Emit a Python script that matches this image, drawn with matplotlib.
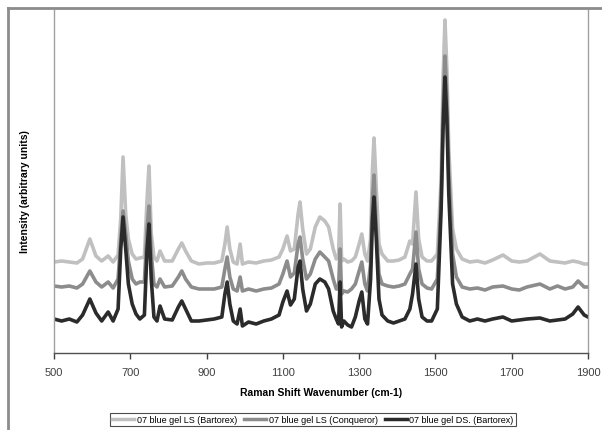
import matplotlib.pyplot as plt
from matplotlib.lines import Line2D

plt.rcParams["font.family"] = ["Liberation Sans", "DejaVu Sans"]

wavenumber = [500, 520, 540, 560, 575, 594, 610, 625, 642, 655, 668, 675, 681, 688, 695,
              705, 715, 725, 737, 744, 749, 755, 762, 770, 778, 790, 810, 826, 835, 845,
              860, 880, 900, 920, 940, 948, 954, 961, 970, 980, 988, 994, 1010, 1030, 1050,
              1070, 1090, 1100, 1111, 1120, 1130, 1140, 1145, 1152, 1162, 1172, 1185, 1197, 1210, 1220,
              1232, 1240, 1246, 1250, 1254, 1260, 1270, 1280, 1290, 1300, 1307, 1315, 1322, 1330, 1335,
              1339, 1345, 1352, 1360, 1375, 1390, 1405, 1420, 1433, 1440, 1449, 1456, 1465, 1478, 1490,
              1505, 1515, 1520, 1525, 1530, 1535, 1545, 1555, 1570, 1590, 1610, 1630, 1650, 1677, 1700,
              1720, 1740, 1774, 1800, 1820, 1840, 1860, 1874, 1890, 1900]

ls_bartorex = [91, 92, 91, 90, 94, 114, 97, 92, 97, 91, 98, 134, 196, 139, 114,
               99, 94, 95, 96, 154, 187, 119, 96, 92, 102, 92, 92, 104, 110, 102,
               92, 89, 90, 90, 92, 109, 126, 104, 91, 89, 109, 89, 91, 90, 92,
               93, 96, 104, 117, 102, 104, 139, 151, 124, 99, 104, 126, 136, 132, 126,
               104, 94, 96, 149, 92, 94, 91, 92, 96, 109, 119, 99, 92, 114, 184,
               215, 164, 109, 99, 92, 92, 93, 96, 112, 109, 161, 114, 96, 92, 92,
               99, 174, 274, 333, 284, 204, 124, 104, 94, 91, 92, 90, 93, 98, 92,
               91, 92, 99, 92, 91, 90, 92, 91, 89, 89]

ls_conqueror = [67, 66, 67, 65, 69, 82, 71, 66, 71, 65, 74, 114, 142, 119, 92,
                74, 69, 71, 71, 124, 147, 99, 69, 66, 74, 66, 67, 76, 82, 74,
                66, 64, 64, 64, 66, 84, 96, 76, 64, 62, 76, 62, 64, 62, 64,
                65, 69, 79, 92, 76, 80, 109, 116, 94, 74, 79, 94, 101, 96, 92,
                74, 64, 64, 104, 59, 62, 61, 64, 69, 82, 91, 69, 62, 89, 154,
                178, 124, 79, 69, 67, 66, 67, 69, 79, 84, 121, 84, 69, 65, 64,
                74, 154, 244, 297, 254, 179, 99, 76, 66, 64, 65, 63, 66, 67, 64,
                63, 66, 69, 64, 67, 64, 66, 72, 66, 66]

ds_bartorex = [34, 32, 34, 31, 38, 54, 40, 32, 41, 32, 44, 104, 136, 104, 69,
               49, 39, 34, 38, 104, 129, 74, 36, 32, 47, 34, 33, 46, 52, 44,
               32, 32, 33, 34, 36, 59, 71, 49, 32, 29, 44, 27, 31, 29, 32,
               34, 38, 51, 62, 48, 54, 86, 92, 64, 42, 49, 69, 74, 71, 64,
               42, 34, 29, 71, 26, 32, 28, 26, 36, 52, 61, 34, 29, 74, 134,
               156, 114, 54, 38, 32, 30, 32, 34, 44, 59, 89, 54, 36, 32, 32,
               44, 144, 224, 276, 234, 159, 69, 49, 36, 32, 34, 32, 34, 36, 32,
               33, 34, 35, 32, 33, 34, 39, 46, 38, 36]

series_labels = ["07 blue gel LS (Bartorex)", "07 blue gel LS (Conqueror)", "07 blue gel DS. (Bartorex)"]
series_colors = ["#c0c0c0", "#8c8c8c", "#2b2b2b"]
x_ticks = [500, 700, 900, 1100, 1300, 1500, 1700, 1900]

fig = plt.figure(figsize=(6.02, 4.31), dpi=100)
ax = fig.add_axes([54 / 602, 77 / 431, 534 / 602, 345 / 431])

for values, label, color in zip([ls_bartorex, ls_conqueror, ds_bartorex], series_labels, series_colors):
    ax.plot(wavenumber, values, color=color, lw=2.6, label=label, solid_joinstyle='round')

ax.set_xlim(500, 1900)
ax.set_ylim(0, 345)
ax.set_xticks(x_ticks)
ax.set_yticks([])
ax.tick_params(axis='x', direction='out', length=4, width=1, color='#404040',
               labelsize=8, labelcolor='#404040', pad=6)

for side in ['left', 'right', 'top']:
    ax.spines[side].set_color('#a0a0a0')
    ax.spines[side].set_linewidth(1)
ax.spines['bottom'].set_color('#505050')
ax.spines['bottom'].set_linewidth(1)

ax.set_xlabel("Raman Shift Wavenumber (cm-1)", fontsize=7.5, fontweight='bold', labelpad=7)
ax.set_ylabel("Intensity (arbitrary units)", fontsize=7.5, fontweight='bold')
ax.yaxis.set_label_coords(-0.045, 0.47)

# outer chart frame (partly cropped in the original)
fig.add_artist(Line2D([8 / 602, 1], [422 / 431, 422 / 431], color='#8c8c8c', lw=2))
fig.add_artist(Line2D([8 / 602, 8 / 602], [0, 422 / 431], color='#8c8c8c', lw=2))

leg = fig.legend(loc='center', bbox_to_anchor=(313 / 602, 10.5 / 431), ncol=3,
                 fontsize=6.5, frameon=True, fancybox=False, handlelength=2.4,
                 handletextpad=0.3, columnspacing=0.8, borderpad=0.25)
leg.get_frame().set_edgecolor('#202020')
leg.get_frame().set_linewidth(0.8)
for line in leg.get_lines():
    line.set_linewidth(2.5)

fig.savefig("out.png", dpi=100)
